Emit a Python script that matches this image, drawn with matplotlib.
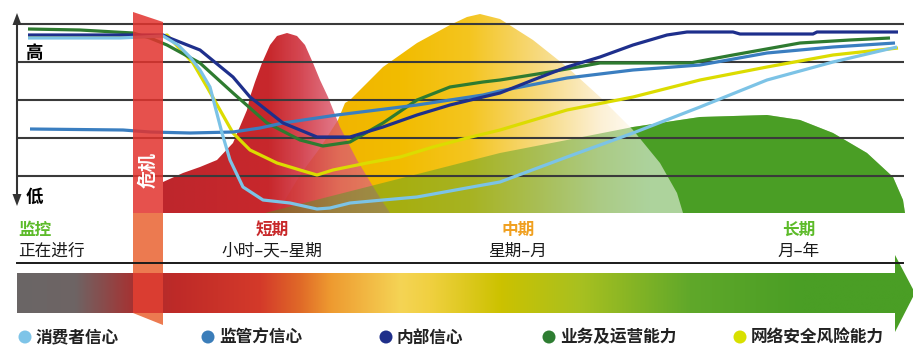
import numpy as np
import matplotlib
matplotlib.use('Agg')
import matplotlib.pyplot as plt
from matplotlib.patches import Polygon, Circle
from matplotlib.colors import to_rgba

plt.rcParams['font.family'] = ['Noto Sans CJK SC', 'DejaVu Sans']

# ---------------- data (time position, level) ----------------
series_names = ['消费者信心', '监管方信心', '内部信心', '业务及运营能力', '网络安全风险能力']

consumer_t = [28, 120, 163, 178, 190, 200, 210, 216, 222, 230, 243, 263, 290, 317, 330, 350, 383, 417, 450, 483, 500, 567, 633, 700, 767, 833, 897]
consumer_v = [38, 38, 36, 45, 57, 70, 87, 110, 133, 160, 187, 200, 203, 209, 208, 203, 200, 197, 191, 185, 182, 157, 133, 107, 80, 62, 47]

regulator_t = [30, 123, 150, 190, 233, 260, 283, 337, 417, 483, 500, 567, 633, 700, 767, 833, 895]
regulator_v = [129, 130, 132, 133, 132, 128, 123, 115, 105, 95, 91, 78, 70, 65, 53, 47, 43]

internal_t = [28, 100, 163, 167, 200, 233, 250, 283, 317, 350, 383, 417, 450, 483, 500, 533, 567, 600, 633, 667, 687, 733, 740, 813, 817, 898]
internal_v = [35, 35, 35, 37, 50, 77, 97, 123, 137, 137, 127, 115, 105, 97, 93, 80, 67, 57, 45, 35, 32, 32, 34, 34, 32, 32]

business_t = [28, 80, 115, 133, 150, 167, 200, 233, 267, 300, 323, 350, 383, 417, 450, 483, 500, 550, 600, 690, 733, 800, 850, 890]
business_v = [29, 30, 32, 33, 38, 45, 63, 93, 123, 140, 146, 142, 123, 100, 87, 82, 80, 72, 63, 63, 55, 43, 40, 38]

cyber_t = [28, 133, 163, 167, 193, 207, 220, 233, 250, 277, 300, 317, 333, 367, 400, 433, 467, 500, 567, 633, 700, 767, 833, 898]
cyber_v = [37, 37, 36, 35, 63, 87, 110, 133, 150, 163, 170, 175, 170, 163, 157, 147, 138, 130, 110, 97, 80, 67, 55, 48]

# phase "bells" (top edge, baseline at the bottom of the chart area)
short_t = [163, 183, 200, 217, 233, 247, 250, 255, 262, 270, 277, 287, 297, 305, 313, 320, 328, 340, 357, 377, 390]
short_v = [182, 173, 167, 160, 143, 110, 97, 82, 63, 45, 36, 33, 36, 45, 63, 80, 97, 127, 160, 193, 213]

mid_t = [278, 285, 300, 320, 338, 345, 350, 383, 417, 450, 467, 480, 500, 533, 567, 600, 633, 660, 677, 683]
mid_v = [213, 200, 175, 148, 120, 103, 100, 67, 43, 25, 17, 14, 19, 40, 67, 97, 130, 163, 193, 213]

long_t = [265, 500, 567, 633, 700, 767, 800, 833, 867, 893, 903, 905]
long_v = [213, 153, 140, 127, 117, 115, 120, 133, 153, 177, 200, 213]

grid_levels = [24, 62, 100, 138, 176]
base_level = 213

phase_titles = ['监控', '短期', '中期', '长期']
phase_ranges = ['正在进行', '小时–天–星期', '星期–月', '月–年']
crisis_label = '危机'
high_label, low_label = '高', '低'

# ---------------- styles ----------------
line_colors = ['#7CC3E6', '#3A7EC0', '#1E2F8C', '#2E7B30', '#DCDC00']
legend_colors = ['#7EC4E8', '#3B7DB9', '#1F2F8A', '#2E7D32', '#D8E000']
phase_colors = ['#5DBB2A', '#C8282A', '#F0A020', '#5DBB2A']
phase_x = [18, 272, 518, 799]
phase_ha = ['left', 'center', 'center', 'center']
legend_x = [25, 208, 386, 549, 740]
GREEN = '#4A9E25'

fig = plt.figure(figsize=(9.13, 3.47), dpi=100)
ax = fig.add_axes([0, 0, 1, 1])
ax.axis('off')


def gradient_in(poly_xy, stops, z):
    patch = Polygon(poly_xy, closed=True, fc='none', ec='none', zorder=z)
    ax.add_patch(patch)
    xs_ = [p[0] for p in poly_xy]
    ys_ = [p[1] for p in poly_xy]
    x0, x1 = min(xs_), max(xs_)
    grid = np.linspace(x0, x1, 500)
    sx = [s[0] for s in stops]
    cols = np.array([to_rgba(s[1], s[2]) for s in stops])
    img = np.zeros((1, 500, 4))
    for k in range(4):
        img[0, :, k] = np.interp(grid, sx, cols[:, k])
    im = ax.imshow(img, extent=(x0, x1, max(ys_), min(ys_)), aspect='auto',
                   interpolation='bilinear', zorder=z)
    im.set_clip_path(patch)
    return patch


def bell(t, v):
    pts = list(zip(t, v))
    pts += [(t[-1], base_level), (t[0], base_level)]
    return pts


# long-term (solid green)
long_poly = bell(long_t, long_v)
ax.add_patch(Polygon(long_poly, closed=True, fc=GREEN, ec='none', zorder=1))

# mid-term (yellow gradient to white)
gradient_in(bell(mid_t, mid_v), [(278, '#F0AE00', 1), (400, '#F2BC00', 1), (470, '#F4C520', 1),
                                 (540, '#F7DA80', 1), (600, '#FCF0D4', 1), (650, '#FFFFFF', 1),
                                 (683, '#FFFFFF', 1)], 2)

# short-term (dark red to pink)
gradient_in(bell(short_t, short_v), [(163, '#BE262C', 1), (270, '#C8282C', 1), (300, '#D23C48', 0.95),
                                     (340, '#DC5A6E', 0.8), (390, '#E07080', 0.75)], 3)

# translucent green over the other phases
ax.add_patch(Polygon(long_poly, closed=True, fc=GREEN, ec='none', alpha=0.45, zorder=4))

# grid lines
for g in grid_levels:
    ax.plot([17, 904], [g, g], color='#3A3A3A', lw=1.5, zorder=5, solid_capstyle='butt')

# series lines
order = [4, 3, 1, 2, 0]
data = [(consumer_t, consumer_v), (regulator_t, regulator_v), (internal_t, internal_v),
        (business_t, business_v), (cyber_t, cyber_v)]
for i in order:
    t, v = data[i]
    ax.plot(t, v, color=line_colors[i], lw=2.3, zorder=6, solid_joinstyle='round',
            solid_capstyle='butt')

# crisis band
ax.add_patch(Polygon([(133, 12), (163, 22), (163, base_level), (133, base_level)], closed=True,
                     fc='#E2332E', ec='none', alpha=0.85, zorder=7))
ax.text(148, 170, crisis_label, rotation=90, color='white', fontsize=13, fontweight='bold',
        ha='center', va='center', zorder=8)

# vertical axis
ax.plot([17, 17], [20, 200], color='#333333', lw=1.5, zorder=8)
ax.add_patch(Polygon([(17, 13), (12.5, 25), (21.5, 25)], closed=True, fc='#333333', ec='none', zorder=8))
ax.add_patch(Polygon([(17, 206), (12.5, 194), (21.5, 194)], closed=True, fc='#333333', ec='none', zorder=8))
ax.text(34, 53, high_label, fontsize=12.5, fontweight='bold', ha='center', va='center', zorder=9)
ax.text(34, 197, low_label, fontsize=12.5, fontweight='bold', ha='center', va='center', zorder=9)

# ---------------- timeline ----------------
arrow_poly = [(17, 273), (895, 273), (895, 255), (915, 293), (895, 332), (895, 313), (17, 313)]
gradient_in(arrow_poly, [(17, '#6A6666', 1), (75, '#6E6464', 1), (135, '#A83030', 1),
                         (175, '#BE2A28', 1), (260, '#D43A2A', 1), (300, '#E06A28', 1),
                         (330, '#EE9A30', 1), (400, '#F5D455', 1), (430, '#F0D040', 1),
                         (500, '#CCC200', 1), (580, '#A8C020', 1), (690, '#60A82A', 1),
                         (800, '#4A9E25', 1), (915, '#4A9E25', 1)], 2)

ax.add_patch(Polygon([(133, base_level), (163, base_level), (163, 325), (133, 313)], closed=True,
                     fc='#EC7A50', ec='none', zorder=6))
ax.add_patch(Polygon([(133, 273), (163, 273), (163, 313), (133, 313)], closed=True,
                     fc='#D93A30', ec='none', alpha=0.95, zorder=6))
ax.plot([17, 903], [263, 263], color='#1A1A1A', lw=1.4, zorder=9)

for k in range(4):
    ax.text(phase_x[k], 230, phase_titles[k], color=phase_colors[k], fontsize=12, fontweight='bold',
            ha=phase_ha[k], va='center', zorder=9)
    ax.text(phase_x[k], 251, phase_ranges[k], color='#1A1A1A', fontsize=12,
            ha=phase_ha[k], va='center', zorder=9)

# legend
for k, name in enumerate(series_names):
    ax.add_patch(Circle((legend_x[k], 337), 6.5, fc=legend_colors[k], ec='none', zorder=9))
    ax.text(legend_x[k] + 11, 337.5, name, fontsize=12, fontweight='bold', color='#222222',
            ha='left', va='center', zorder=9)

ax.set_xlim(0, 913)
ax.set_ylim(347, 0)
fig.savefig('out.png', dpi=100)
